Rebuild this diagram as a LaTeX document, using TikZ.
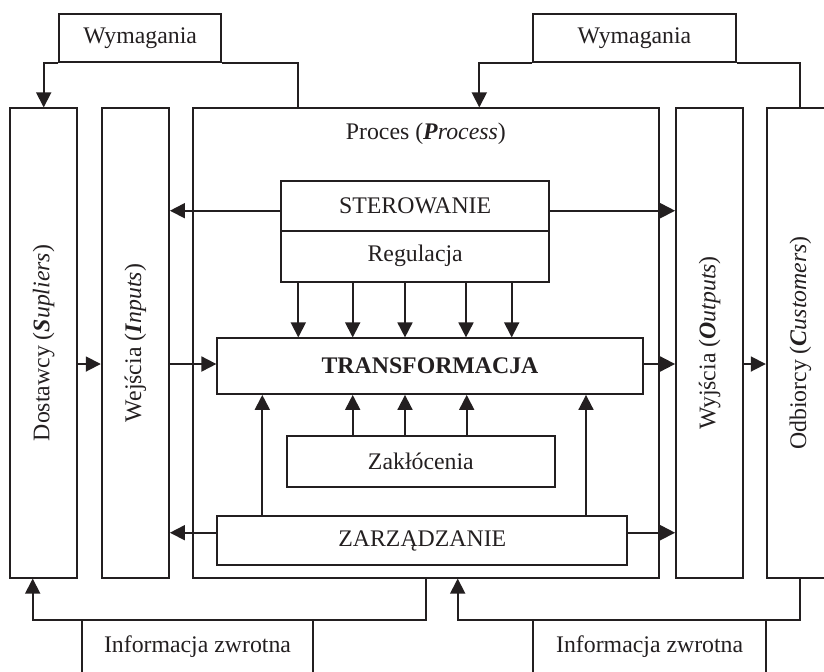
\documentclass[tikz,border=0pt]{standalone}
\usepackage{fontspec}
\setmainfont{Liberation Serif}
\usetikzlibrary{arrows.meta}
\definecolor{ink}{HTML}{231F20}
\begin{document}
\begin{tikzpicture}[x=0.5pt,y=-0.5pt,
  every node/.style={font=\fontsize{11.9}{14}\selectfont, text=ink},
  box/.style={draw=ink, line width=0.9pt, inner sep=0pt},
  wire/.style={draw=ink, line width=0.9pt},
  arr/.style={wire, -{Triangle[length=7.5pt,width=7.5pt]}},
]
\useasboundingbox (0,0) rectangle (824,671);
\clip (0,0) rectangle (824,671);

% requirement boxes
\node[box, minimum width=80.85pt, minimum height=24pt] (wymL) at (140.2,38) {Wymagania};
\node[box, minimum width=101.2pt, minimum height=24pt] (wymR) at (634.5,38) {Wymagania};

% tall columns
\node[box, minimum width=33.65pt, minimum height=234.7pt] (dost) at (43.7,343) {};
\node[box, minimum width=33.65pt, minimum height=234.7pt] (wej) at (135.35,343) {};
\node[box, minimum width=233.15pt, minimum height=234.7pt] (proc) at (425.85,343) {};
\node[box, minimum width=33.65pt, minimum height=234.7pt] (wyj) at (709.65,343) {};
\node[box, minimum width=33.65pt, minimum height=234.7pt] (odb) at (800.35,343) {};

\node[rotate=90] (dostT) at (dost.center) {Dostawcy (\textbf{\textit{S}}\textit{upliers})};
\node[rotate=90] (wejT) at (wej.center) {Wejścia (\textbf{\textit{I}}\textit{nputs})};
\node[rotate=90] (wyjT) at (wyj.center) {Wyjścia (\textbf{\textit{O}}\textit{utputs})};
\node[rotate=90] (odbT) at (odb.center) {Odbiorcy (\textbf{\textit{C}}\textit{ustomers})};
\node (procT) at ([yshift=-13.35pt]proc.north) {Proces (\textbf{\textit{P}}\textit{rocess})};

% inner blocks of the process
\node[box, minimum width=134.15pt, minimum height=25pt] (ster) at (415.15,205.7) {STEROWANIE};
\node[box, minimum width=134.15pt, minimum height=25.5pt] (reg) at (415.15,256.2) {Regulacja};
\node[box, minimum width=212.7pt, minimum height=27.85pt] (trans) at (430,366.15) {\textbf{TRANSFORMACJA}};
\node[box, minimum width=134.15pt, minimum height=25.35pt] (zakl) at (420.85,461.35) {Zakłócenia};
\node[box, minimum width=205pt, minimum height=24.5pt] (zarz) at (422.3,540.5) {ZARZĄDZANIE};

% feedback boxes
\node[box, minimum width=115.8pt, minimum height=27pt] (info1) at (197.5,647) {Informacja zwrotna};
\node[box, minimum width=116.35pt, minimum height=27pt] (info2) at (649.65,647) {Informacja zwrotna};

% helper levels and columns
\coordinate (pTopL) at (297.7,0);
\coordinate (pTopR) at (479.3,0);
\coordinate (fbRow) at (0,620);
\coordinate (fbL) at (32.7,0);
\coordinate (fbR) at (457.7,0);
\coordinate (flow) at (0,364);
\coordinate (ctl) at (0,210.7);
\coordinate (mgt) at (0,532.7);
\foreach \x [count=\i] in {298.3,352.7,405,466,511.7} \coordinate (r\i) at (\x,0);
\foreach \x [count=\i] in {352.7,405,466.7} \coordinate (z\i) at (\x,0);
\coordinate (m1) at (262.3,0);
\coordinate (m2) at (586,0);

% requirements
\draw[arr] (wymL.south west) -| (dost.north);
\draw[wire] (wymL.south east) -| (pTopL |- proc.north);
\draw[arr] (wymR.south west) -| (pTopR |- proc.north);
\draw[wire] (wymR.south east) -| (odb.north);

% feedback
\draw[arr] (proc.south) |- (fbL |- fbRow) -- (fbL |- dost.south);
\draw[arr] (odb.south) |- (fbR |- fbRow) -- (fbR |- proc.south);

% main flow
\draw[arr] (dost.east |- flow) -- (wej.west |- flow);
\draw[arr] (wej.east |- flow) -- (trans.west |- flow);
\draw[arr] (trans.east |- flow) -- (wyj.west |- flow);
\draw[arr] (wyj.east |- flow) -- (odb.west |- flow);

% control and management outputs
\draw[arr] (ster.west |- ctl) -- (wej.east |- ctl);
\draw[arr] (ster.east |- ctl) -- (wyj.west |- ctl);
\draw[arr] (zarz.west |- mgt) -- (wej.east |- mgt);
\draw[arr] (zarz.east |- mgt) -- (wyj.west |- mgt);

% regulation, disturbances, management into the transformation
\foreach \i in {1,...,5} \draw[arr] (r\i |- reg.south) -- (r\i |- trans.north);
\foreach \i in {1,...,3} \draw[arr] (z\i |- zakl.north) -- (z\i |- trans.south);
\foreach \i in {1,2} \draw[arr] (m\i |- zarz.north) -- (m\i |- trans.south);
\end{tikzpicture}
\end{document}
